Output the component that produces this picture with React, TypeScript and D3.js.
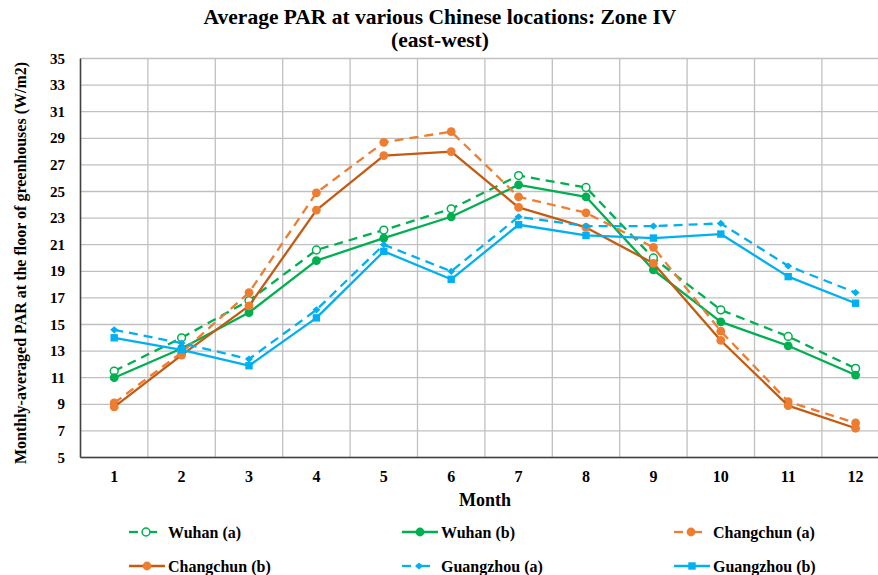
import React from "react";
import * as d3 from "d3";

const months = ["1", "2", "3", "4", "5", "6", "7", "8", "9", "10", "11", "12"];
const yTicks = [5, 7, 9, 11, 13, 15, 17, 19, 21, 23, 25, 27, 29, 31, 33, 35];

const wuhanA = [11.5, 14.0, 16.8, 20.6, 22.1, 23.7, 26.2, 25.3, 20.0, 16.1, 14.1, 11.7];
const wuhanB = [11.0, 13.2, 15.9, 19.8, 21.5, 23.1, 25.5, 24.6, 19.1, 15.2, 13.4, 11.2];
const changchunA = [9.1, 12.9, 17.4, 24.9, 28.7, 29.5, 24.6, 23.4, 20.8, 14.5, 9.2, 7.6];
const changchunB = [8.8, 12.7, 16.4, 23.6, 27.7, 28.0, 23.8, 22.3, 19.6, 13.8, 8.9, 7.2];
const guangzhouA = [14.6, 13.6, 12.4, 16.1, 21.0, 19.0, 23.1, 22.4, 22.4, 22.6, 19.4, 17.4];
const guangzhouB = [14.0, 13.1, 11.9, 15.5, 20.5, 18.4, 22.5, 21.7, 21.5, 21.8, 18.6, 16.6];

type Marker = "openCircle" | "circle" | "diamond" | "square";

const series: {
  name: string;
  values: number[];
  line: string;
  fill: string;
  dashed: boolean;
  marker: Marker;
}[] = [
  { name: "Wuhan (a)", values: wuhanA, line: "#00B050", fill: "#00B050", dashed: true, marker: "openCircle" },
  { name: "Wuhan (b)", values: wuhanB, line: "#00B050", fill: "#00B050", dashed: false, marker: "circle" },
  { name: "Changchun (a)", values: changchunA, line: "#ED7D31", fill: "#ED7D31", dashed: true, marker: "circle" },
  { name: "Changchun (b)", values: changchunB, line: "#C55A11", fill: "#ED7D31", dashed: false, marker: "circle" },
  { name: "Guangzhou (a)", values: guangzhouA, line: "#00B0F0", fill: "#00B0F0", dashed: true, marker: "diamond" },
  { name: "Guangzhou (b)", values: guangzhouB, line: "#00B0F0", fill: "#00B0F0", dashed: false, marker: "square" },
];

const W = 878;
const H = 575;
const plotLeft = 80.5;
const plotRight = 889.3;
const plotTop = 58.5;
const plotBottom = 457.5;
const FONT = "Liberation Serif, Tinos, DejaVu Serif, serif";

function MarkerShape({ type, x, y, s }: { type: Marker; x: number; y: number; s: any }) {
  if (type === "openCircle")
    return <circle cx={x} cy={y} r={3.9} fill="#fff" stroke={s.fill} strokeWidth={1.5} />;
  if (type === "circle") return <circle cx={x} cy={y} r={4.4} fill={s.fill} />;
  if (type === "square") return <rect x={x - 3.7} y={y - 3.7} width={7.4} height={7.4} fill={s.fill} />;
  return (
    <path d={`M${x - 4},${y} L${x},${y - 3.6} L${x + 4},${y} L${x},${y + 3.6} Z`} fill={s.fill} />
  );
}

export default function App() {
  const x = d3.scaleBand<string>().domain(months).range([plotLeft, plotRight]);
  const y = d3.scaleLinear().domain([5, 35]).range([plotBottom, plotTop]);
  const cx = (m: string) => (x(m) as number) + x.bandwidth() / 2;
  const lineGen = d3
    .line<number>()
    .x((_, i) => cx(months[i]))
    .y((v) => y(v));

  const legendCols = [129, 402, 674];
  const legendRows = [532, 566];

  return (
    <svg
      width={W}
      height={H}
      style={{ position: "absolute", left: 0, top: 0, background: "#fff", fontFamily: FONT, fontWeight: 700 }}
    >
      <rect x={0} y={0} width={W} height={H} fill="#fff" />
      <text x={440} y={23.5} textAnchor="middle" fontSize={21.5} fill="#000">
        Average PAR at various Chinese locations: Zone IV
      </text>
      <text x={440} y={47} textAnchor="middle" fontSize={21.5} fill="#000">
        (east-west)
      </text>

      {/* horizontal gridlines */}
      {yTicks.map((t) => (
        <line key={"h" + t} x1={plotLeft} x2={plotRight} y1={y(t)} y2={y(t)} stroke="#C0C0C0" strokeWidth={1.3} />
      ))}
      {/* vertical gridlines */}
      {months.slice(1).map((m) => (
        <line
          key={"v" + m}
          x1={x(m) as number}
          x2={x(m) as number}
          y1={plotTop}
          y2={plotBottom}
          stroke="#C0C0C0"
          strokeWidth={1.3}
        />
      ))}
      {/* axes */}
      <line x1={plotLeft} x2={plotLeft} y1={plotTop} y2={plotBottom} stroke="#404040" strokeWidth={1.6} />
      <line x1={plotLeft} x2={plotRight} y1={plotBottom} y2={plotBottom} stroke="#404040" strokeWidth={1.6} />

      {/* y tick labels */}
      {yTicks.map((t) => (
        <text key={"yt" + t} x={65} y={y(t) + 5} textAnchor="end" fontSize={15} fill="#000">
          {t}
        </text>
      ))}
      {/* x tick labels */}
      {months.map((m) => (
        <text key={"xt" + m} x={cx(m)} y={481.5} textAnchor="middle" fontSize={16} fill="#000">
          {m}
        </text>
      ))}
      <text x={(plotLeft + plotRight) / 2} y={506} textAnchor="middle" fontSize={18} fill="#000">
        Month
      </text>
      <text
        transform={`translate(25.5, ${(plotTop + plotBottom) / 2 + 5}) rotate(-90)`}
        textAnchor="middle"
        fontSize={16}
        fill="#000"
      >
        Monthly-averaged PAR at the floor of greenhouses (W/m2)
      </text>

      {/* series */}
      {series.map((s) => (
        <g key={s.name}>
          <path
            d={lineGen(s.values) || ""}
            fill="none"
            stroke={s.line}
            strokeWidth={2.3}
            strokeDasharray={s.dashed ? "9,6" : undefined}
            strokeLinejoin="round"
          />
          {s.values.map((v, i) => (
            <MarkerShape key={i} type={s.marker} x={cx(months[i])} y={y(v)} s={s} />
          ))}
        </g>
      ))}

      {/* legend */}
      {series.map((s, i) => {
        const col = legendCols[i % 3];
        const row = legendRows[Math.floor(i / 3)];
        return (
          <g key={"lg" + s.name}>
            {s.dashed ? (
              <>
                <line x1={col} x2={col + 9} y1={row} y2={row} stroke={s.line} strokeWidth={2.3} />
                <line x1={col + 14} x2={col + 28} y1={row} y2={row} stroke={s.line} strokeWidth={2.3} />
                <MarkerShape type={s.marker} x={col + 17} y={row} s={s} />
              </>
            ) : (
              <>
                <line x1={col} x2={col + 36} y1={row} y2={row} stroke={s.line} strokeWidth={2.3} />
                <MarkerShape type={s.marker} x={col + 18} y={row} s={s} />
              </>
            )}
            <text x={col + 39} y={row + 5.5} fontSize={16} fill="#000">
              {s.name}
            </text>
          </g>
        );
      })}
    </svg>
  );
}
